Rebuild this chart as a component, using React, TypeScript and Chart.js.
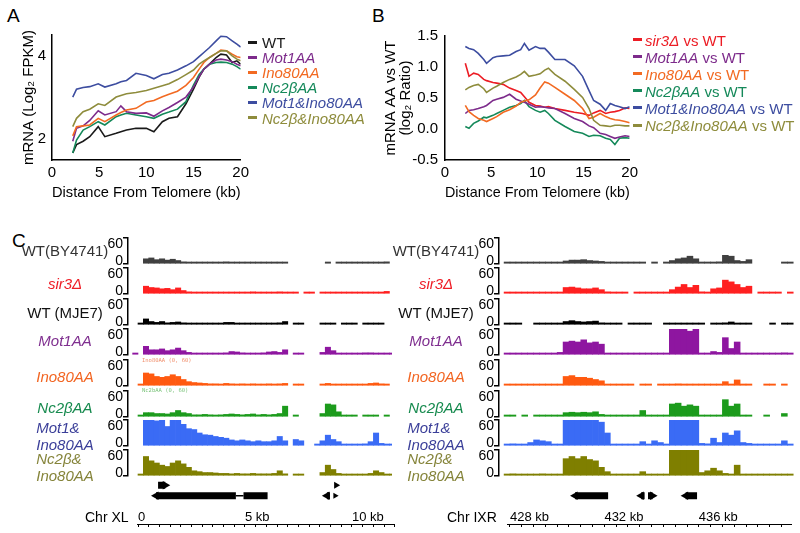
import React, { useEffect, useRef } from 'react';
import { Chart, registerables } from 'chart.js';

Chart.register(...registerables);

const FONT = '"Liberation Sans", Arial, Helvetica, sans-serif';
Chart.defaults.font.family = FONT;
const _ = null;

// ---------------- Panel A : mRNA (log2 FPKM) vs distance from telomere ----------------
const distA = [2.2, 2.6, 3.3, 4.0, 4.9, 5.6, 6.8, 7.3, 7.9, 8.9, 10.0, 10.8, 11.7, 12.4, 13.3, 14.2, 15.0, 15.6, 16.1, 16.7, 17.4, 17.9, 18.5, 19.1, 19.6, 20.0];
const aWT = [1.67, 1.87, 1.95, 2.06, 2.30, 2.06, 2.14, 2.18, 2.22, 2.26, 2.26, 2.18, 2.42, 2.50, 2.54, 2.85, 3.20, 3.49, 3.68, 3.80, 3.96, 4.04, 4.02, 3.84, 3.88, 3.80];
const aMot1 = [1.95, 2.26, 2.32, 2.45, 2.68, 2.58, 2.66, 2.80, 2.66, 2.62, 2.63, 2.55, 2.68, 2.76, 2.88, 3.01, 3.25, 3.50, 3.68, 3.80, 3.90, 3.92, 3.90, 3.86, 3.80, 3.76];
const aIno80 = [2.08, 2.30, 2.32, 2.34, 2.50, 2.42, 2.58, 2.64, 2.70, 2.74, 2.89, 2.93, 3.02, 3.08, 3.15, 3.29, 3.48, 3.68, 3.84, 3.96, 4.06, 4.14, 4.12, 4.04, 3.98, 3.96];
const aNc2b = [1.67, 1.98, 2.22, 2.30, 2.42, 2.34, 2.54, 2.58, 2.62, 2.58, 2.54, 2.50, 2.60, 2.65, 2.72, 2.90, 3.30, 3.55, 3.68, 3.80, 3.84, 3.85, 3.84, 3.80, 3.74, 3.68];
const aMot1Ino80 = [3.01, 3.20, 3.24, 3.26, 3.33, 3.25, 3.33, 3.38, 3.41, 3.58, 3.53, 3.45, 3.55, 3.58, 3.66, 3.76, 3.86, 3.98, 4.08, 4.20, 4.36, 4.47, 4.46, 4.36, 4.28, 4.21];
const aNc2bIno80 = [2.30, 2.50, 2.66, 2.72, 2.85, 2.81, 3.01, 3.05, 3.09, 3.12, 3.17, 3.22, 3.28, 3.33, 3.43, 3.55, 3.66, 3.80, 3.88, 3.96, 4.06, 4.12, 4.12, 4.00, 3.92, 3.88];
const aYTicks = [2, 4];
const distTicks = [0, 5, 10, 15, 20];

// ---------------- Panel B : log2 ratio vs WT ----------------
const distB = [2.2, 2.6, 3.1, 3.6, 4.2, 4.5, 5.2, 5.6, 6.3, 7.0, 7.7, 8.2, 8.6, 9.1, 9.8, 10.3, 10.8, 11.2, 11.9, 13.0, 14.0, 14.9, 15.6, 16.1, 16.8, 17.4, 17.9, 18.4, 18.9, 19.5, 20.0];
const bSir3 = [1.06, 0.85, 0.90, 0.88, 0.80, 0.78, 0.75, 0.74, 0.72, 0.66, 0.62, 0.59, 0.52, 0.43, 0.38, 0.37, 0.35, 0.36, 0.33, 0.30, 0.27, 0.25, 0.22, 0.26, 0.30, 0.25, 0.27, 0.28, 0.30, 0.34, 0.33];
const bMot1 = [0.25, 0.30, 0.31, 0.33, 0.36, 0.38, 0.46, 0.48, 0.51, 0.56, 0.48, 0.45, 0.43, 0.40, 0.35, 0.36, 0.35, 0.34, 0.33, 0.25, 0.17, 0.12, 0.05, 0.02, -0.07, -0.09, -0.12, -0.15, -0.13, -0.11, -0.12];
const bIno80 = [0.38, 0.28, 0.22, 0.17, 0.14, 0.12, 0.17, 0.20, 0.27, 0.31, 0.37, 0.43, 0.45, 0.47, 0.55, 0.66, 0.76, 0.74, 0.67, 0.56, 0.46, 0.33, 0.17, 0.19, 0.25, 0.20, 0.17, 0.15, 0.14, 0.12, 0.10];
const bNc2b = [0.04, 0.01, 0.09, 0.13, 0.19, 0.18, 0.22, 0.25, 0.30, 0.35, 0.38, 0.41, 0.46, 0.36, 0.30, 0.27, 0.30, 0.25, 0.14, 0.04, -0.04, -0.07, -0.12, -0.10, -0.11, -0.15, -0.17, -0.25, -0.15, -0.14, -0.15];
const bMot1Ino80 = [1.33, 1.30, 1.28, 1.22, 1.12, 1.06, 1.15, 1.17, 1.18, 1.19, 1.25, 1.28, 1.38, 1.27, 1.33, 1.30, 1.30, 1.24, 1.12, 1.12, 1.02, 0.85, 0.62, 0.46, 0.40, 0.30, 0.41, 0.38, 0.36, 0.33, 0.36];
const bNc2bIno80 = [0.63, 0.67, 0.70, 0.72, 0.65, 0.59, 0.66, 0.69, 0.75, 0.80, 0.84, 0.88, 0.93, 0.85, 0.87, 0.89, 0.95, 0.98, 0.88, 0.77, 0.64, 0.51, 0.33, 0.14, 0.06, 0.05, 0.04, 0.06, 0.06, 0.05, 0.05];
const bYTicks = [-0.5, 0, 0.5, 1.0, 1.5];

// ---------------- Panel C : genome browser coverage (0.25 kb bins) ----------------
const BIN_KB = 0.25;
const chrXLStartKb = -0.25;
const chrIXRStartKb = 427.75;

const xlWtBY4741 = [_,_,12,14,10,12,9,11,8,5,4,3,3,2,3,2,3,5,4,3,2,3,3,2,3,3,3,4,2,_,_,_,_,_,_,_,2,_,2,2,3,2,2,3,2,2,3,5,_];
const xlSir3 = [_,_,18,15,14,12,13,10,14,8,5,3,2,2,2,2,4,3,3,3,3,4,5,3,3,3,4,5,3,2,2,_,2,2,_,3,3,2,3,3,2,3,3,3,3,3,4,6,_];
const xlWtMJE7 = [_,2,14,8,6,8,5,6,7,5,4,3,3,3,4,3,3,6,6,3,4,3,3,4,3,4,3,5,8,_,2,2,_,_,_,2,3,3,_,2,3,2,_,2,3,2,2,_,_];
const xlMot1 = [2,_,20,12,12,14,10,12,16,10,6,4,4,3,4,3,4,5,8,7,5,4,4,4,5,7,8,6,12,_,2,2,_,_,_,6,18,10,4,3,3,3,4,5,5,4,3,3,2];
const xlIno80 = [_,3,30,28,22,20,22,26,22,15,10,8,7,6,5,5,4,6,5,4,5,4,5,4,4,5,4,5,6,_,4,3,_,_,_,2,6,4,3,3,3,3,3,4,6,7,5,3,_];
const xlNc2b = [_,2,10,10,8,8,7,10,15,10,8,5,5,6,5,4,5,6,7,6,5,6,7,5,6,5,6,8,25,_,4,_,_,_,_,8,30,28,12,3,3,3,_,3,3,3,_,3,_];
const xlMot1Ino80 = [_,_,60,60,58,60,45,60,60,50,40,38,30,26,25,22,20,18,14,12,14,12,10,12,10,10,12,22,12,_,15,12,_,_,3,12,25,15,10,3,3,3,4,5,10,30,6,3,2];
const xlNc2bIno80 = [_,2,45,35,30,25,22,30,35,28,20,12,10,8,8,7,6,6,5,6,5,5,6,5,5,5,6,12,5,_,3,3,_,_,_,8,25,15,6,3,3,3,3,4,6,12,8,4,2];

const ixrWtBY4741 = [2,2,2,2,2,2,2,2,2,2,7,9,9,10,8,7,6,3,2,2,2,2,2,2,_,2,_,3,8,12,14,18,12,3,2,2,5,20,18,8,6,10,_,_,_,_,_,2,2];
const ixrSir3 = [2,2,2,2,2,3,2,2,3,4,15,16,14,12,12,14,10,5,2,2,2,_,2,2,2,2,2,2,10,16,22,15,20,5,4,12,14,32,28,22,15,18,_,3,3,3,2,_,2];
const ixrWtMJE7 = [2,2,2,_,_,2,2,2,2,3,8,10,8,7,8,9,5,2,2,2,_,2,2,2,2,_,_,2,3,4,3,3,2,2,_,2,3,5,7,4,3,2,_,_,_,2,_,2,2];
const ixrMot1 = [2,2,2,2,2,2,2,2,3,6,30,32,30,35,28,30,25,4,2,2,2,2,3,2,2,2,3,3,60,60,60,55,60,4,4,8,6,40,15,30,4,3,2,2,2,2,2,5,2];
const ixrIno80 = [2,2,2,2,2,2,2,2,2,3,22,24,20,20,18,15,12,4,2,2,2,2,_,2,2,_,2,2,4,5,4,4,3,3,2,2,3,10,3,14,3,3,_,_,2,2,_,2,_];
const ixrNc2b = [2,2,_,2,_,2,2,2,2,3,10,11,10,11,10,12,6,2,2,2,2,2,2,15,2,2,2,3,30,32,25,28,25,3,2,2,3,40,25,30,4,2,_,_,2,_,_,8,_];
const ixrMot1Ino80 = [4,5,4,3,8,14,12,10,3,4,60,60,60,60,60,60,55,30,4,3,2,3,2,10,4,12,8,3,60,60,60,60,60,6,5,18,8,30,25,35,8,6,3,2,2,2,3,12,2];
const ixrNc2bIno80 = [4,5,4,3,4,3,5,3,3,4,40,45,40,45,38,35,20,10,3,3,3,2,3,10,3,3,3,3,60,60,60,60,60,8,12,18,12,6,4,25,3,3,2,2,2,2,2,3,2];

// gene models: [row, startKb, endKb] and arrowheads [row, kb, direction, size]
const xlGeneBlocks = [[2, 0.75, 1.1], [1, 0.65, 4.53], [1, 4.9, 6.07], [1, 8.95, 9.1]];
const xlGeneIntrons = [[1, 4.53, 4.9]];
const xlGeneArrows = [[2, 1.1, 1, 5], [2, 9.4, 1, 4], [1, 0.65, -1, 5], [1, 8.95, -1, 5], [1, 9.35, 1, 3.5]];
const ixrGeneBlocks = [[1, 430.65, 432.1], [1, 433.55, 433.7], [1, 433.85, 434.05], [1, 435.5, 436.0]];
const ixrGeneIntrons: number[][] = [];
const ixrGeneArrows = [[1, 430.65, -1, 5], [1, 433.55, -1, 5], [1, 434.05, 1, 5], [1, 435.5, -1, 5]];

// ruler ticks
const xlRulerTicks = Array.from({ length: 25 }, (_v, i) => i * 0.5);
const xlRulerLabelVals = [0, 5, 10];
const xlRulerLabels = ['0', '5 kb', '10 kb'];
const ixrRulerTicks = Array.from({ length: 24 }, (_v, i) => 428 + i * 0.5);
const ixrRulerLabelVals = [428, 432, 436];
const ixrRulerLabels = ['428 kb', '432 kb', '436 kb'];

// colours
const C = {
  wt: '#1a1a1a', mot1: '#7D2B8B', ino80: '#F26A22', nc2b: '#15895A',
  mot1ino80: '#3D4DA0', nc2bino80: '#8E8C3C', sir3: '#EC1C24',
};

// ---------------- layout ----------------
const TRACK_TOPS = [238, 268, 299, 329, 360, 391, 420, 450];
const TRACK_H = 26;
const LABEL_CY = [250, 283, 312, 340, 376, 407, 435.5, 466.5];

const trackInfo = [
  { lines: ['WT(BY4741)'], color: '#333333', italic: false, fill: '#404040', xl: xlWtBY4741, ixr: ixrWtBY4741 },
  { lines: ['sir3Δ'], color: '#EE1C25', italic: true, fill: '#FF2020', xl: xlSir3, ixr: ixrSir3 },
  { lines: ['WT (MJE7)'], color: '#111111', italic: false, fill: '#000000', xl: xlWtMJE7, ixr: ixrWtMJE7 },
  { lines: ['Mot1AA'], color: '#7F2F8F', italic: true, fill: '#8E16A0', xl: xlMot1, ixr: ixrMot1 },
  { lines: ['Ino80AA'], color: '#F26522', italic: true, fill: '#FF5A10', xl: xlIno80, ixr: ixrIno80 },
  { lines: ['Nc2βAA'], color: '#168A4E', italic: true, fill: '#1C9B1C', xl: xlNc2b, ixr: ixrNc2b },
  { lines: ['Mot1&', 'Ino80AA'], color: '#3B3F99', italic: true, fill: '#3A6BF5', xl: xlMot1Ino80, ixr: ixrMot1Ino80 },
  { lines: ['Nc2β&', 'Ino80AA'], color: '#85843A', italic: true, fill: '#7F7F00', xl: xlNc2bIno80, ixr: ixrNc2bIno80 },
];

const legendA = [
  { t: 'WT', c: C.wt, i: false }, { t: 'Mot1AA', c: C.mot1, i: true }, { t: 'Ino80AA', c: C.ino80, i: true },
  { t: 'Nc2βAA', c: C.nc2b, i: true }, { t: 'Mot1&Ino80AA', c: C.mot1ino80, i: true }, { t: 'Nc2β&Ino80AA', c: C.nc2bino80, i: true },
];
const legendB = [
  { t: 'sir3Δ', c: C.sir3 }, { t: 'Mot1AA', c: C.mot1 }, { t: 'Ino80AA', c: C.ino80 },
  { t: 'Nc2βAA', c: C.nc2b }, { t: 'Mot1&Ino80AA', c: C.mot1ino80 }, { t: 'Nc2β&Ino80AA', c: C.nc2bino80 },
];

// ---------------- chart configs ----------------
const base = { animation: false, responsive: false, events: [] as any[] };
const noPlugins = { legend: { display: false }, tooltip: { enabled: false } };

function lineDs(xs: number[], ys: number[], color: string) {
  return { data: xs.map((x, i) => ({ x, y: ys[i] })), borderColor: color, backgroundColor: color, borderWidth: 1.6, pointRadius: 0, tension: 0, fill: false };
}

function profileConfig(datasets: any[], yMin: number, yMax: number, yTicks: number[], yTitle: any, yWidth: number, yPad: number, titleLH: number, fmt: (v: number) => string) {
  return {
    type: 'line',
    data: { datasets },
    options: {
      ...base,
      layout: { padding: { top: 14, right: 10, left: 0, bottom: 0 } },
      plugins: noPlugins,
      scales: {
        x: {
          type: 'linear', min: 0, max: 20,
          afterBuildTicks: (s: any) => { s.ticks = distTicks.map(v => ({ value: v })); },
          afterFit: (s: any) => { s.height = 42; },
          grid: { display: false, drawTicks: false },
          border: { display: true, color: '#000', width: 1.5 },
          ticks: { padding: 4, color: '#000', font: { family: FONT, size: 15 }, maxRotation: 0, autoSkip: false },
          title: { display: true, text: 'Distance From Telomere (kb)', color: '#000', font: { family: FONT, size: 15 }, padding: { top: 0, bottom: 0 } },
        },
        y: {
          type: 'linear', min: yMin, max: yMax,
          afterBuildTicks: (s: any) => { s.ticks = yTicks.map(v => ({ value: v })); },
          afterFit: (s: any) => { s.width = yWidth; },
          grid: { display: false, drawTicks: false },
          border: { display: true, color: '#000', width: 1.5 },
          ticks: { padding: yPad, color: '#000', font: { family: FONT, size: 15 }, callback: (v: any) => fmt(Number(v)) },
          title: { display: true, text: yTitle, color: '#000', font: { family: FONT, size: 15, lineHeight: titleLH }, padding: 0 },
        },
      },
    },
  };
}

function trackConfig(values: (number | null)[], startKb: number, color: string, xMin: number, xMax: number) {
  return {
    type: 'bar',
    data: {
      datasets: [{
        data: values.map((v, i) => ({ x: startKb + BIN_KB * (i + 0.5), y: v })),
        backgroundColor: color, borderWidth: 0, barPercentage: 1, categoryPercentage: 1, minBarLength: 2,
      }],
    },
    options: {
      ...base,
      layout: { padding: { top: 1, bottom: 1, left: 0, right: 0 } },
      plugins: noPlugins,
      scales: {
        x: { type: 'linear', min: xMin, max: xMax, display: false, offset: false },
        y: {
          type: 'linear', min: 0, max: 60,
          afterFit: (s: any) => { s.width = 6; },
          afterBuildTicks: (s: any) => { s.ticks = [{ value: 0 }, { value: 60 }]; },
          ticks: { display: false },
          grid: { drawOnChartArea: false, drawTicks: true, tickLength: 5, color: '#000', lineWidth: 1.5 },
          border: { display: true, color: '#000', width: 1.5 },
        },
      },
    },
  };
}

function geneConfig(blocks: number[][], introns: number[][], arrows: number[][], xMin: number, xMax: number) {
  const datasets: any[] = [
    ...blocks.map(([r, a, b]) => ({ type: 'line', data: [{ x: a, y: r }, { x: b, y: r }], borderColor: '#000', borderWidth: 7, borderCapStyle: 'butt', pointRadius: 0 })),
    ...introns.map(([r, a, b]) => ({ type: 'line', data: [{ x: a, y: r }, { x: b, y: r }], borderColor: '#000', borderWidth: 1.5, pointRadius: 0 })),
    {
      type: 'scatter', data: arrows.map(([r, k]) => ({ x: k, y: r })), showLine: false,
      pointStyle: 'triangle', pointRadius: arrows.map(a => a[3]), pointRotation: arrows.map(a => (a[2] > 0 ? 90 : -90)),
      backgroundColor: '#000', borderColor: '#000', borderWidth: 0,
    },
  ];
  return {
    type: 'line',
    data: { datasets },
    options: {
      ...base,
      layout: { padding: 0 },
      plugins: noPlugins,
      scales: {
        x: { type: 'linear', min: xMin, max: xMax, display: false },
        y: { type: 'linear', min: 0.5, max: 2.5, display: false },
      },
    },
  };
}

function rulerConfig(xMin: number, xMax: number, ticks: number[], labelVals: number[], labels: string[]) {
  return {
    type: 'line',
    data: { datasets: [] },
    options: {
      ...base,
      layout: { padding: 0 },
      plugins: noPlugins,
      scales: {
        x: {
          type: 'linear', position: 'top', min: xMin, max: xMax,
          afterBuildTicks: (s: any) => { s.ticks = ticks.map(v => ({ value: v })); },
          afterFit: (s: any) => { s.height = 19; },
          ticks: {
            autoSkip: false, maxRotation: 0, align: 'start', padding: 0, color: '#000',
            font: { family: FONT, size: 13, lineHeight: 1 },
            callback: (v: any) => { const k = labelVals.indexOf(Number(v)); return k >= 0 ? labels[k] : ''; },
          },
          grid: { drawOnChartArea: true, drawTicks: false, color: '#000', lineWidth: 1 },
          border: { display: true, color: '#000', width: 1 },
        },
        y: { display: false, min: 0, max: 1 },
      },
    },
  };
}

// ---------------- components ----------------
function ChartBox({ x, y, w, h, make }: { x: number; y: number; w: number; h: number; make: () => any }) {
  const ref = useRef<HTMLCanvasElement>(null);
  useEffect(() => {
    const chart = new Chart(ref.current as HTMLCanvasElement, make());
    return () => chart.destroy();
  }, []);
  return <canvas ref={ref} width={w} height={h} style={{ position: 'absolute', left: x, top: y, width: w, height: h, display: 'block' }} />;
}

function T({ x, y, a = 'left', s = 15, c = '#000', i = false, ff, children }: any) {
  const tx = a === 'left' ? '0' : a === 'right' ? '-100%' : '-50%';
  return (
    <div style={{ position: 'absolute', left: x, top: y, transform: `translate(${tx},-50%)`, fontSize: s, lineHeight: 1, color: c, fontStyle: i ? 'italic' : 'normal', whiteSpace: 'nowrap', fontFamily: ff || FONT }}>
      {children}
    </div>
  );
}

const XL = { trackLeft: 122, trackW: 270, xMin: -0.467, xMax: 11.87, geneLeft: 128, geneW: 264, rulerLeft: 137, rulerW: 258, rMin: -0.047, rMax: 12.01, labelCx: 65, numRight: 123 };
const IXR = { trackLeft: 493, trackW: 302, xMin: 427.534, xMax: 440.076, geneLeft: 499, geneW: 296, rulerLeft: 507, rulerW: 285, rMin: 427.873, rMax: 439.949, labelCx: 436, numRight: 494 };

export default function App() {
  const aSets = [
    lineDs(distA, aNc2bIno80, C.nc2bino80), lineDs(distA, aMot1Ino80, C.mot1ino80), lineDs(distA, aIno80, C.ino80),
    lineDs(distA, aMot1, C.mot1), lineDs(distA, aNc2b, C.nc2b), lineDs(distA, aWT, C.wt),
  ];
  const bSets = [
    lineDs(distB, bNc2bIno80, C.nc2bino80), lineDs(distB, bMot1Ino80, C.mot1ino80), lineDs(distB, bIno80, C.ino80),
    lineDs(distB, bMot1, C.mot1), lineDs(distB, bNc2b, C.nc2b), lineDs(distB, bSir3, C.sir3),
  ];

  const columns = [
    { L: XL, key: 'xl' as const, start: chrXLStartKb },
    { L: IXR, key: 'ixr' as const, start: chrIXRStartKb },
  ];

  return (
    <div style={{ position: 'fixed', left: 0, top: 0, width: 800, height: 533, background: '#fff', overflow: 'hidden', fontFamily: FONT }}>
      <T x={7} y={15} s={19}>A</T>
      <T x={372} y={15} s={19}>B</T>
      <T x={12} y={240} s={19}>C</T>

      <ChartBox x={20} y={20} w={233} h={182} make={() => profileConfig(aSets, 1.5, 4.5, aYTicks, 'mRNA (Log₂ FPKM)', 32, 6, 1.2, v => String(v))} />
      <ChartBox x={383} y={20} w={259} h={182} make={() => profileConfig(bSets, -0.5, 1.5, bYTicks, ['mRNA AA vs WT', '(log₂ Ratio)'], 62, 7, 1, v => v.toFixed(1))} />

      {legendA.map((e, k) => (
        <React.Fragment key={'la' + k}>
          <div style={{ position: 'absolute', left: 248, top: 42 + 15.1 * k - 1.5, width: 9, height: 3, background: e.c }} />
          <T x={262} y={42 + 15.1 * k} c={e.c} i={e.i}>{e.t}</T>
        </React.Fragment>
      ))}
      {legendB.map((e, k) => (
        <React.Fragment key={'lb' + k}>
          <div style={{ position: 'absolute', left: 633, top: 39.5 + 17.1 * k - 1.5, width: 9, height: 3, background: e.c }} />
          <T x={645} y={39.5 + 17.1 * k} c={e.c}><span style={{ fontStyle: 'italic' }}>{e.t}</span> vs WT</T>
        </React.Fragment>
      ))}

      {columns.map(({ L, key, start }) => (
        <React.Fragment key={key}>
          {trackInfo.map((tr, k) => (
            <React.Fragment key={key + k}>
              <ChartBox x={L.trackLeft} y={TRACK_TOPS[k] - 1} w={L.trackW} h={TRACK_H + 2} make={() => trackConfig(tr[key], start, tr.fill, L.xMin, L.xMax)} />
              <T x={L.numRight} y={TRACK_TOPS[k] + 5} a="right" s={14}>60</T>
              <T x={L.numRight} y={TRACK_TOPS[k] + 22} a="right" s={14}>0</T>
              <div style={{ position: 'absolute', left: L.labelCx, top: LABEL_CY[k], transform: 'translate(-50%,-50%)', fontSize: 15, lineHeight: '17px', color: tr.color, fontStyle: tr.italic ? 'italic' : 'normal', whiteSpace: 'nowrap', textAlign: 'left', fontFamily: FONT }}>
                {tr.lines.map((ln, j) => <div key={j}>{ln}</div>)}
              </div>
            </React.Fragment>
          ))}
        </React.Fragment>
      ))}

      <T x={142} y={361} s={5.5} c="#F0906E" ff='"DejaVu Sans Mono", monospace'>Ino80AA (0, 60)</T>
      <T x={142} y={391} s={5.5} c="#7CC47C" ff='"DejaVu Sans Mono", monospace'>Nc2bAA (0, 60)</T>

      <ChartBox x={XL.geneLeft} y={475} w={XL.geneW} h={31} make={() => geneConfig(xlGeneBlocks, xlGeneIntrons, xlGeneArrows, XL.xMin, XL.xMax)} />
      <ChartBox x={IXR.geneLeft} y={475} w={IXR.geneW} h={31} make={() => geneConfig(ixrGeneBlocks, ixrGeneIntrons, ixrGeneArrows, IXR.xMin, IXR.xMax)} />

      <ChartBox x={XL.rulerLeft} y={505} w={XL.rulerW} h={22} make={() => rulerConfig(XL.rMin, XL.rMax, xlRulerTicks, xlRulerLabelVals, xlRulerLabels)} />
      <ChartBox x={IXR.rulerLeft} y={505} w={IXR.rulerW} h={22} make={() => rulerConfig(IXR.rMin, IXR.rMax, ixrRulerTicks, ixrRulerLabelVals, ixrRulerLabels)} />
      <T x={85} y={517} s={14}>Chr XL</T>
      <T x={447} y={517} s={14}>Chr IXR</T>
    </div>
  );
}
